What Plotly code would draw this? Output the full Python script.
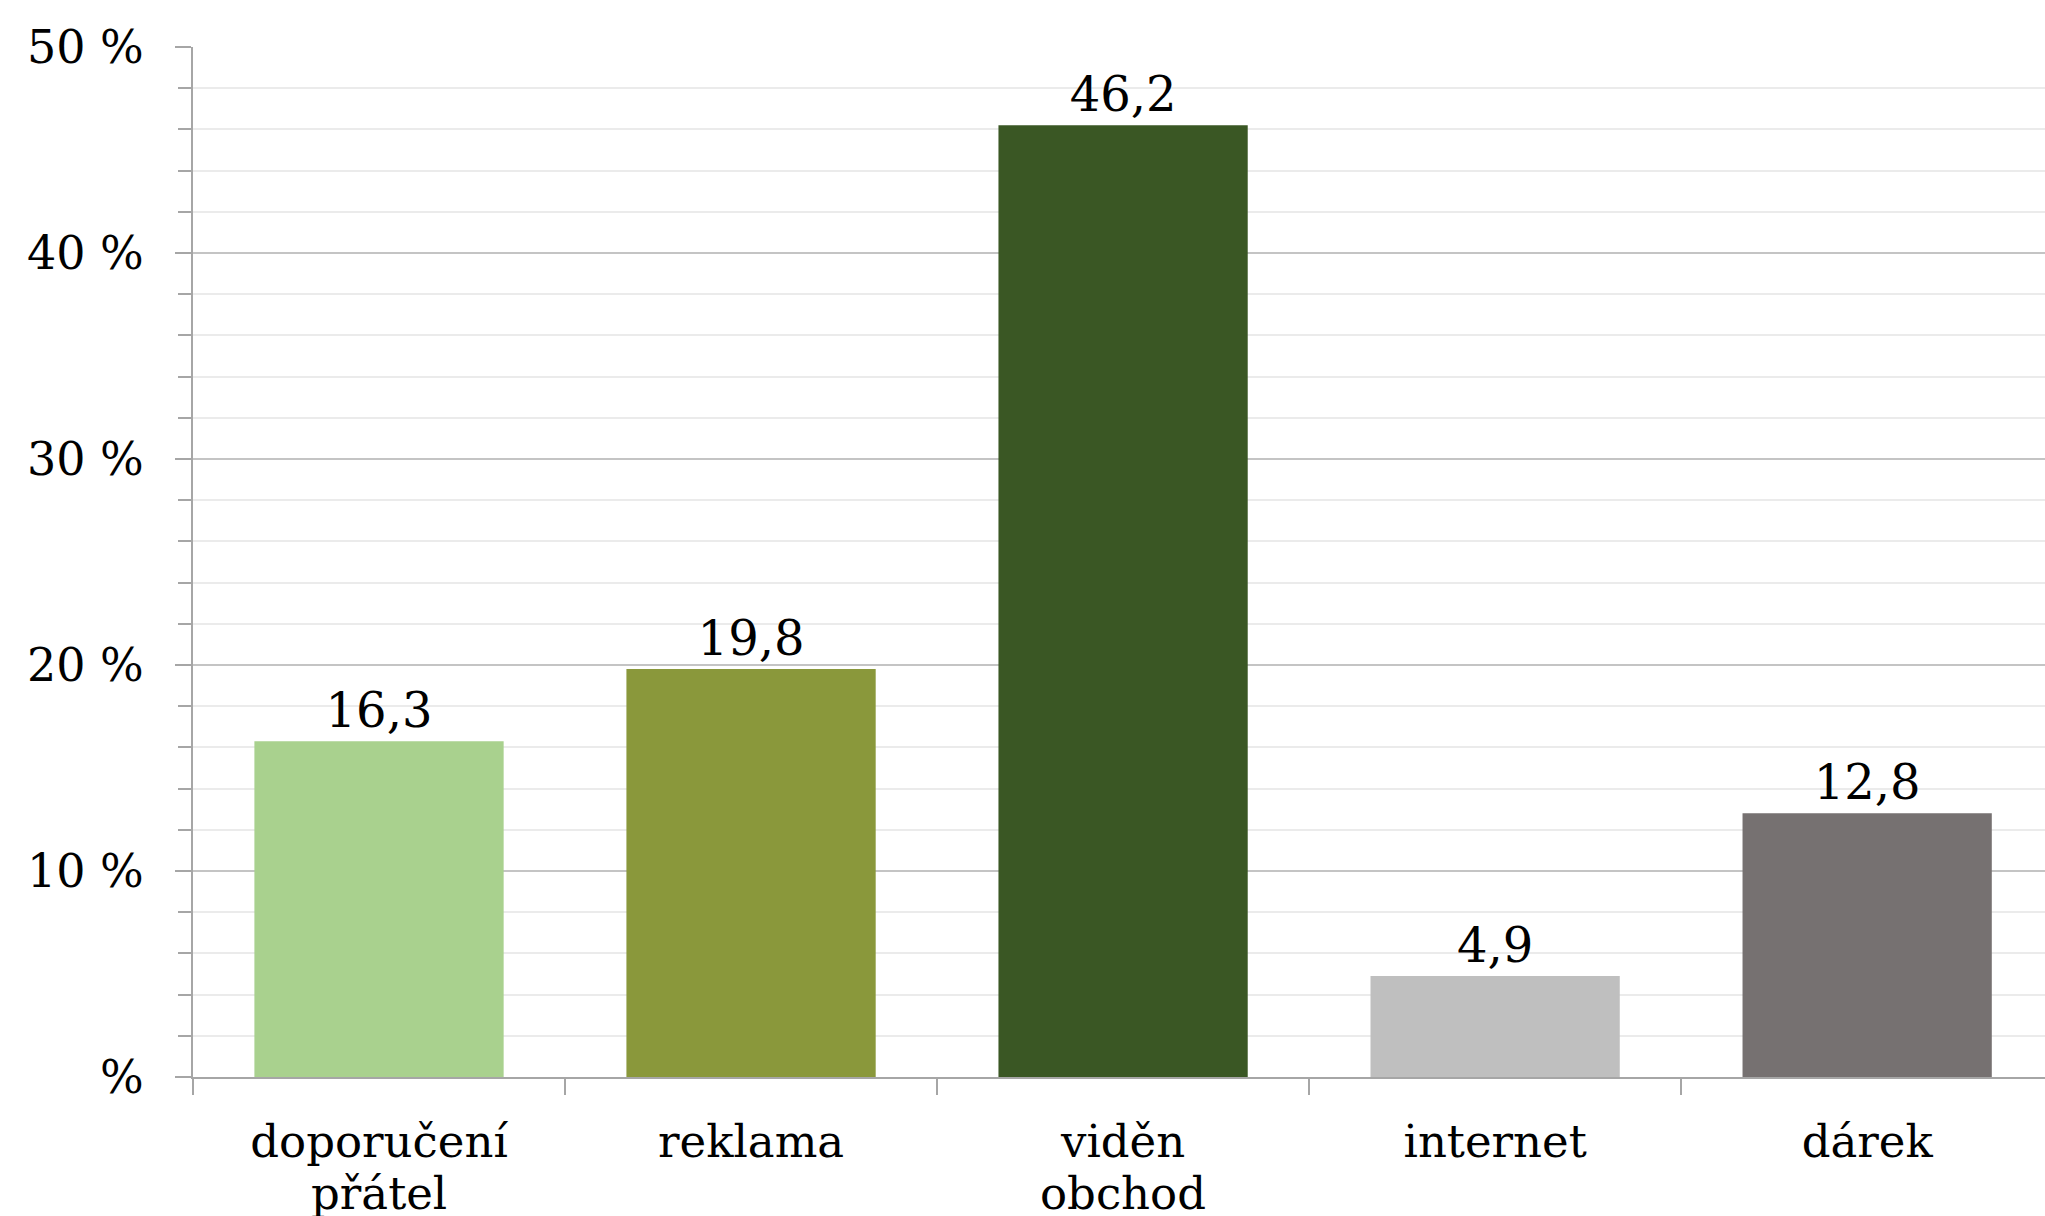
import plotly.graph_objects as go

categories = ["doporučení<br>přátel", "reklama", "viděn<br>obchod", "internet", "dárek"]
values = [16.3, 19.8, 46.2, 4.9, 12.8]
colors = ["#A9D18E", "#8A983B", "#3A5724", "#BFBFBF", "#767171"]
ytick_vals = [0, 10, 20, 30, 40, 50]
ytick_text = ["%", "10 %", "20 %", "30 %", "40 %", "50 %"]

FONT = "DejaVu Serif"
CAT_SIZE = 45

first_lines = [c.split("<br>")[0] for c in categories]
second_lines = [c.split("<br>")[1] if "<br>" in c else "" for c in categories]

fig = go.Figure(
    go.Bar(
        x=categories,
        y=values,
        marker=dict(color=colors, line=dict(width=0)),
        width=0.67,
        texttemplate="%{y:.1f}",
        textposition="outside",
        textfont=dict(family=FONT, size=48, color="#000000"),
        cliponaxis=False,
    )
)

# second lines of the wrapped category labels (tighter line spacing than <br>)
for cat, line2 in zip(categories, second_lines):
    if line2:
        fig.add_annotation(
            x=cat, xref="x",
            y=-0.1135, yref="paper",
            yanchor="middle",
            text=line2,
            showarrow=False,
            font=dict(family=FONT, size=CAT_SIZE, color="#000000"),
        )

fig.update_layout(
    width=2045,
    height=1216,
    margin=dict(l=193, r=0, t=47, b=139),
    plot_bgcolor="white",
    paper_bgcolor="white",
    separators=", ",
    showlegend=False,
    font=dict(family=FONT, size=44, color="#000000"),
)

fig.update_xaxes(
    type="category",
    range=[-0.5, 4.478],
    automargin=False,
    tickvals=categories,
    ticktext=first_lines,
    showline=True,
    linecolor="#A6A6A6",
    linewidth=2,
    ticks="outside",
    tickson="boundaries",
    ticklen=16,
    tickcolor="#A6A6A6",
    tickwidth=2,
    showgrid=False,
    ticklabelstandoff=24,
    tickfont=dict(family=FONT, size=CAT_SIZE, color="#000000"),
)

fig.update_yaxes(
    range=[0, 50],
    automargin=False,
    tickvals=ytick_vals,
    ticktext=ytick_text,
    showline=True,
    linecolor="#A6A6A6",
    linewidth=2,
    ticks="outside",
    ticklen=16,
    tickcolor="#A6A6A6",
    tickwidth=2,
    showgrid=True,
    gridcolor="#C4C4C4",
    gridwidth=1.5,
    zeroline=False,
    ticklabelstandoff=22,
    tickfont=dict(family=FONT, size=46, color="#000000"),
    minor=dict(
        dtick=2,
        ticks="outside",
        ticklen=13,
        tickcolor="#A6A6A6",
        tickwidth=1.5,
        showgrid=True,
        gridcolor="#EBEBEB",
        gridwidth=1.5,
    ),
)

fig.write_html("out.html")
